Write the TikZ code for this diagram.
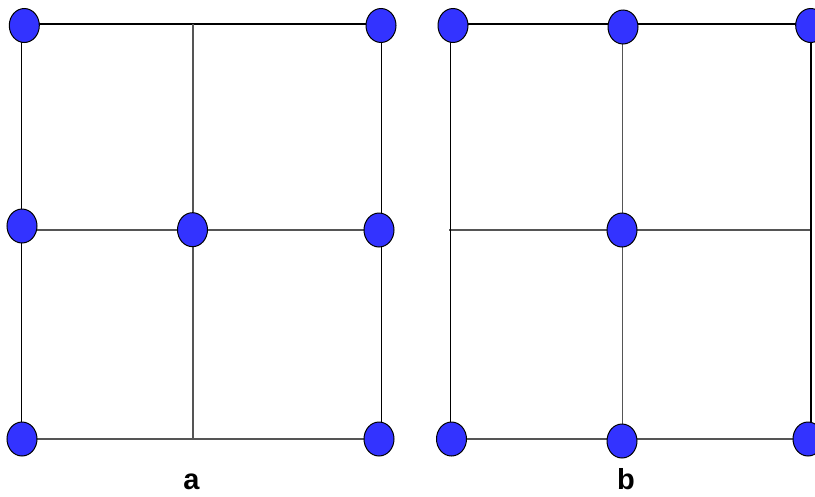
\documentclass[tikz,border=0pt]{standalone}
\usepackage{fontspec}
\setmainfont{Liberation Sans}
\usetikzlibrary{shapes.geometric}
\definecolor{vblue}{RGB}{51,51,255}
\definecolor{lgray}{RGB}{85,85,85}
\tikzset{
  vert/.style={ellipse, draw=black, line width=1pt, fill=vblue, minimum width=30pt, minimum height=34pt, inner sep=0pt},
  edge/.style={line width=1.1pt, draw=black},
  gedge/.style={line width=1.1pt, draw=lgray},
  lab/.style={font=\bfseries\fontsize{29}{29}\selectfont, anchor=base, inner sep=0pt}
}
\begin{document}
\begin{tikzpicture}[x=1pt,y=-1pt]
\useasboundingbox (0,0) rectangle (815,496);
\clip (0,0) rectangle (815,496);
% panel a grid points
\coordinate (a11) at (21.7,24);
\coordinate (a12) at (193,24);
\coordinate (a13) at (381.7,24);
\coordinate (a21) at (21.7,230);
\coordinate (a22) at (193,230);
\coordinate (a23) at (381.7,230);
\coordinate (a31) at (21.7,439);
\coordinate (a32) at (193,439);
\coordinate (a33) at (381.7,439);
\draw[edge] (a11) -- (a13);
\draw[gedge] (a21) -- (a23);
\draw[gedge] (a31) -- (a33);
\draw[edge] (a11) -- (a31);
\draw[gedge] (a12) -- (a32);
\draw[edge] (a13) -- (a33);
% panel b grid points
\coordinate (b11) at (450.7,24);
\coordinate (b12) at (622.7,24);
\coordinate (b13) at (811,24);
\coordinate (b21) at (449,230);
\coordinate (b22) at (622.7,230);
\coordinate (b23) at (811,230);
\coordinate (b31) at (450.7,439);
\coordinate (b32) at (622.7,439);
\coordinate (b33) at (811,439);
\draw[edge] (b11) -- (b13);
\draw[gedge] (b21) -- (b23);
\draw[gedge] (b31) -- (b33);
\draw[edge] (b11) -- (b31);
\draw[gedge] (b12) -- (b32);
\draw[edge] (b13) -- (b33);
% panel a nodes
\node[vert] (na1) at (24.3,25.5) {};
\node[vert] (na2) at (381,25.5) {};
\node[vert] (na3) at (22,226) {};
\node[vert] (na4) at (192.5,229.7) {};
\node[vert] (na5) at (379,230) {};
\node[vert] (na6) at (22,439) {};
\node[vert] (na7) at (379,439) {};
% panel b nodes
\node[vert] (nb1) at (453,25.5) {};
\node[vert] (nb2) at (623,27) {};
\node[vert] (nb3) at (810.7,25.5) {};
\node[vert] (nb4) at (622,230) {};
\node[vert] (nb5) at (451.5,439) {};
\node[vert] (nb6) at (622,441) {};
\node[vert] (nb7) at (808,439) {};
% labels
\node[lab] (la) at (191.5,489) {a};
\node[lab] (lb) at (626,489) {b};
\end{tikzpicture}
\end{document}
